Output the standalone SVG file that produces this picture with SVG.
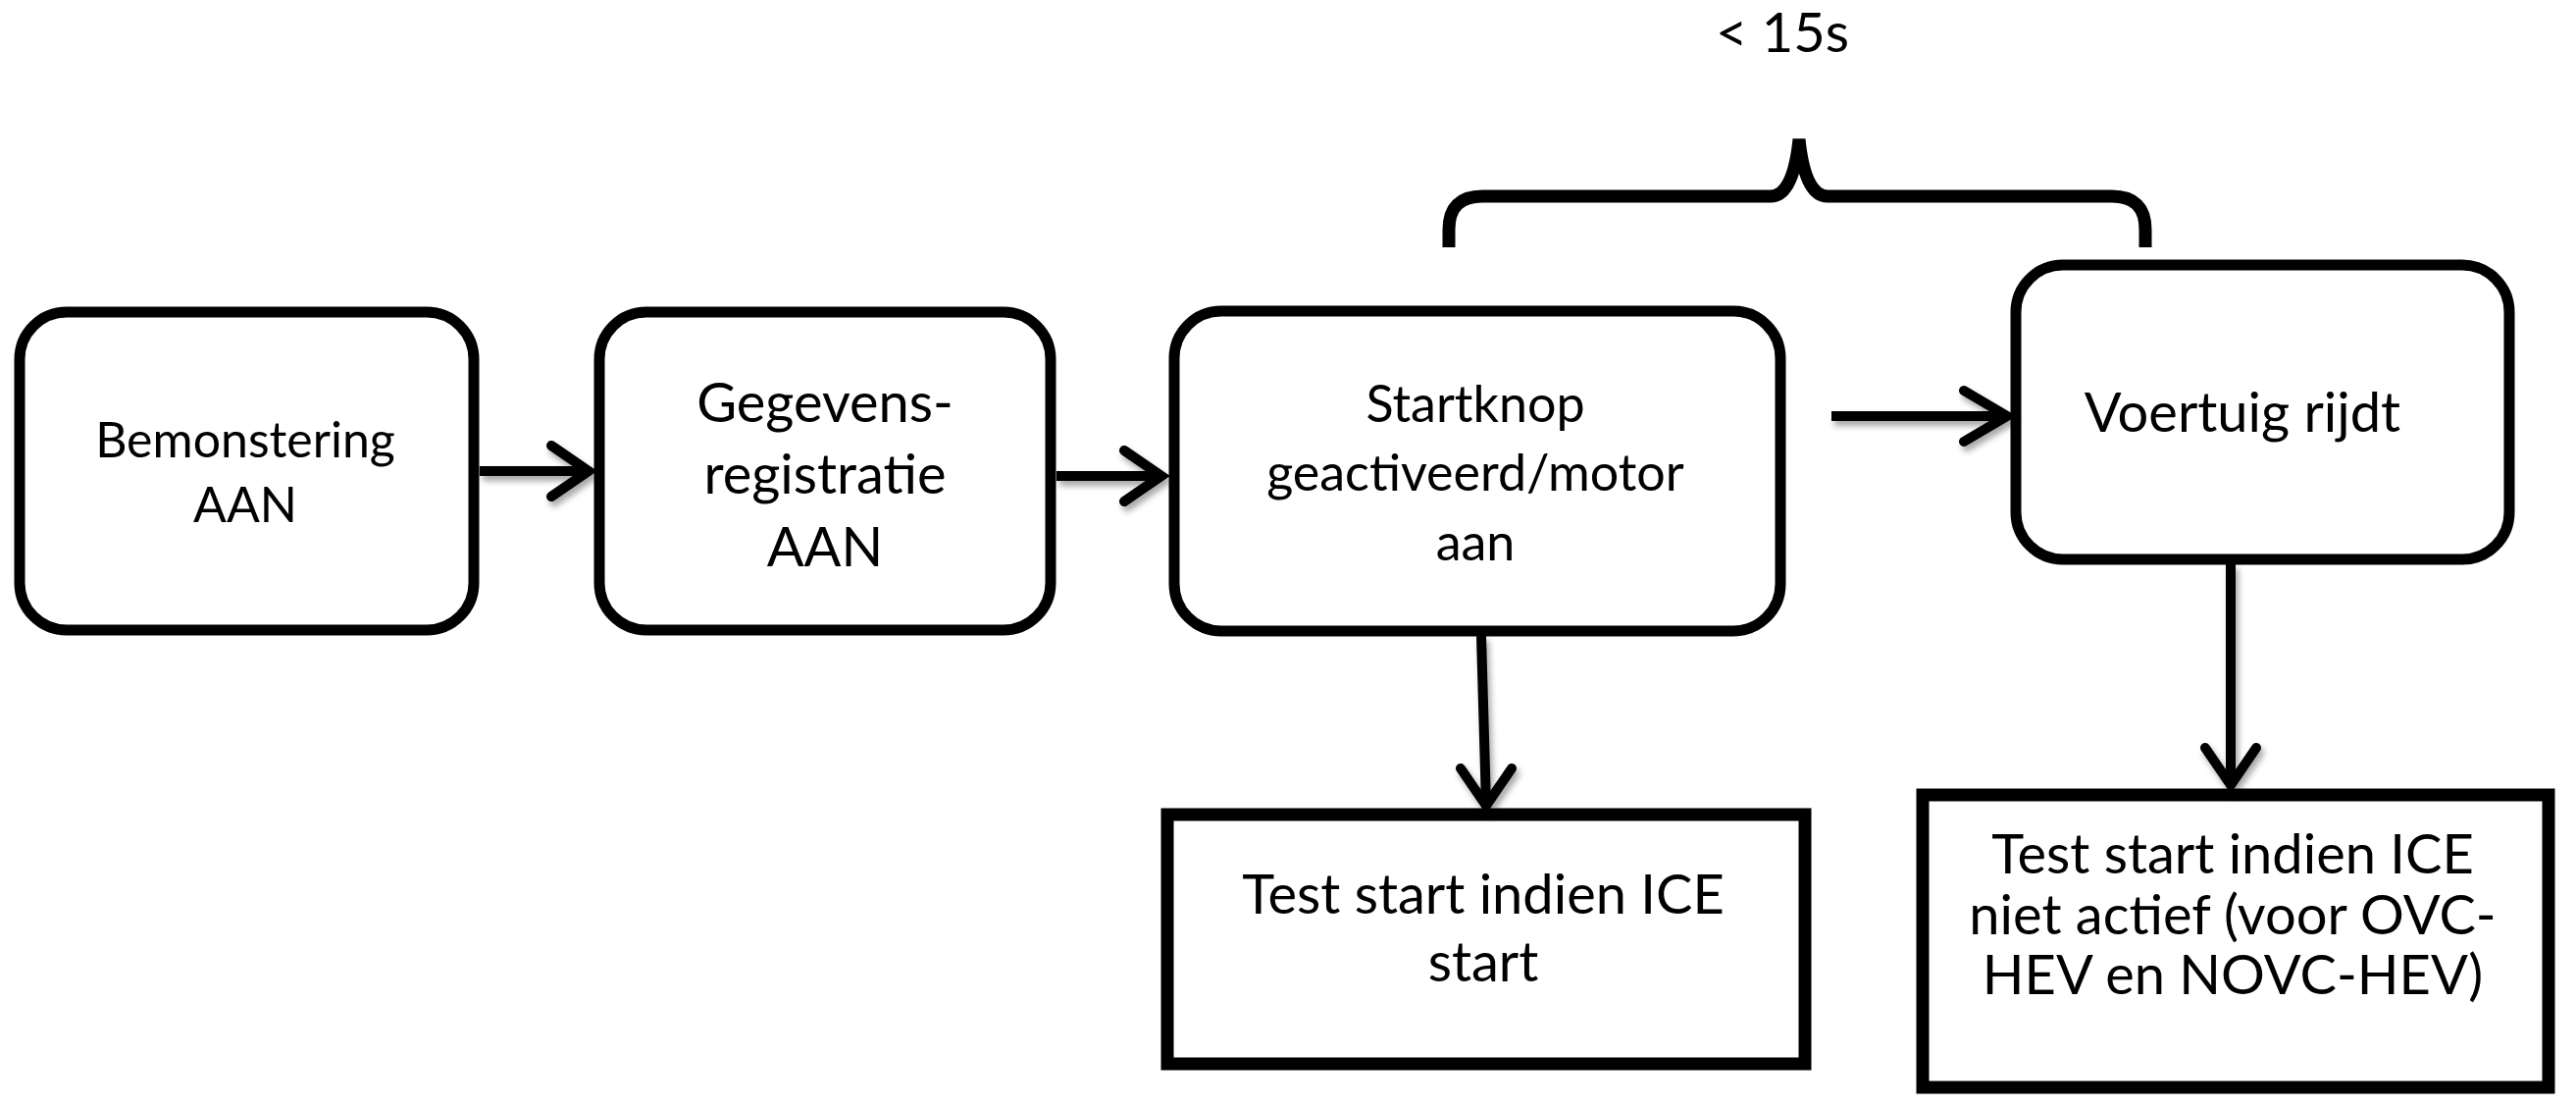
<svg xmlns="http://www.w3.org/2000/svg" width="2626" height="1128" viewBox="0 0 2626 1128">
<style>
.rbox{fill:#fff;stroke:#000;stroke-width:11}
.sbox{fill:#fff;stroke:#000;stroke-width:13}
.t{font-family:Lato,"Open Sans","DejaVu Sans",sans-serif;fill:#000;text-anchor:middle}
.c{fill:none;stroke:#000;stroke-width:10;stroke-linecap:butt}
.br{fill:none;stroke:#000;stroke-width:13;stroke-linecap:butt}
.head{fill:none;stroke:#000;stroke-width:10;stroke-linecap:round;stroke-linejoin:miter}
</style>
<defs>
<filter id="sh" x="-20%" y="-20%" width="140%" height="160%">
<feDropShadow dx="3" dy="5" stdDeviation="3" flood-color="#000" flood-opacity="0.35"/>
</filter>
</defs>
<g id="brace">
<path class="br" d="M1477,252 L1477,234 Q1477,200 1511,200 L1805,200 Q1828,200 1834,142 Q1840,200 1863,200 L2153,200 Q2187,200 2187,234 L2187,252"/>
<text class="t" x="1817" y="53" font-size="56">&lt; 15s</text>
</g>
<g id="node-bemonstering">
<rect class="rbox" x="20" y="318" width="463" height="324" rx="48"/>
<text class="t" x="250" y="466" font-size="50">Bemonstering</text>
<text class="t" x="250" y="532" font-size="50">AAN</text>
</g>
<g id="node-gegevens">
<rect class="rbox" x="611" y="318" width="460" height="324" rx="48"/>
<text class="t" x="841" y="430" font-size="56">Gegevens-</text>
<text class="t" x="841" y="503" font-size="56">registratie</text>
<text class="t" x="841" y="577" font-size="56">AAN</text>
</g>
<g id="node-startknop">
<rect class="rbox" x="1197" y="317" width="618" height="326" rx="48"/>
<text class="t" x="1504" y="430" font-size="52">Startknop</text>
<text class="t" x="1504" y="500" font-size="52">geactiveerd/motor</text>
<text class="t" x="1504" y="571" font-size="52">aan</text>
</g>
<g id="node-voertuig">
<rect class="rbox" x="2055" y="270" width="503" height="300" rx="48"/>
<text class="t" x="2286" y="440" font-size="56">Voertuig rijdt</text>
</g>
<g id="node-test-ice-start">
<rect class="sbox" x="1190" y="830" width="650" height="254"/>
<text class="t" x="1512" y="931" font-size="56">Test start indien ICE</text>
<text class="t" x="1512" y="1000" font-size="56">start</text>
</g>
<g id="node-test-ice-niet">
<rect class="sbox" x="1960" y="810" width="638" height="298"/>
<text class="t" x="2276" y="890" font-size="56">Test start indien ICE</text>
<text class="t" x="2276" y="952" font-size="56">niet actief (voor OVC-</text>
<text class="t" x="2276" y="1013" font-size="56">HEV en NOVC-HEV)</text>
</g>
<g id="connectors" filter="url(#sh)">
<path class="c" d="M489,480 L600,480"/>
<path class="head" d="M562,454 L600,480 L562,506"/>
<path class="c" d="M1077,485 L1184,485"/>
<path class="head" d="M1146,459 L1184,485 L1146,511"/>
<path class="c" d="M1867,424 L2046,424"/>
<path class="head" d="M2002,398 L2046,424 L2002,450"/>
<path class="c" d="M1510,648 L1515,820"/>
<path class="head" d="M1489,783 L1515,821 L1541,783"/>
<path class="c" d="M2274,575 L2274,800"/>
<path class="head" d="M2248,762 L2274,800 L2300,762"/>
</g>
</svg>
